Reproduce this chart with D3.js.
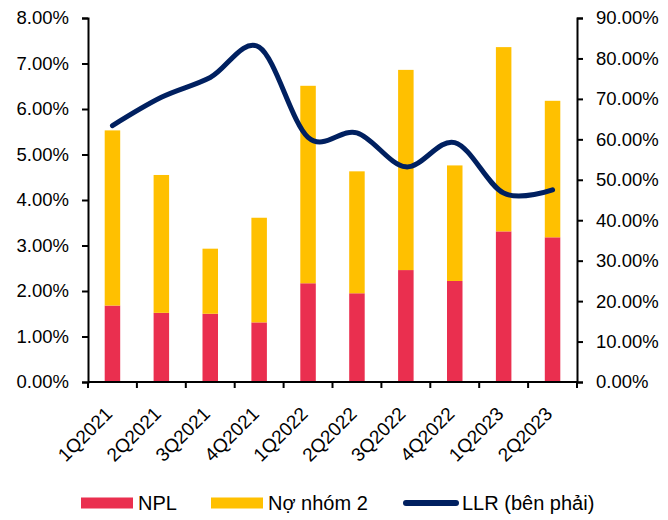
<!DOCTYPE html>
<html>
<head>
<meta charset="utf-8">
<script src="https://cdn.jsdelivr.net/npm/d3@7"></script>
<style>
  body { margin: 0; background: #fff; }
  #chart { width: 668px; height: 520px; }
  text { font-family: "Liberation Sans", Arial, sans-serif; fill: #000; }
</style>
</head>
<body>
<div id="chart"></div>
<script>
var quarters = ["1Q2021", "2Q2021", "3Q2021", "4Q2021", "1Q2022", "2Q2022", "3Q2022", "4Q2022", "1Q2023", "2Q2023"];
var npl = [1.68, 1.52, 1.50, 1.31, 2.17, 1.95, 2.46, 2.22, 3.31, 3.18];
var group2 = [3.85, 3.03, 1.43, 2.30, 4.34, 2.68, 4.40, 2.54, 4.05, 3.00];
var llr = [63.4, 70.4, 75.3, 82.8, 60.5, 61.6, 53.2, 59.2, 46.7, 47.5];
var leftTicks = [0, 1, 2, 3, 4, 5, 6, 7, 8];
var rightTicks = [0, 10, 20, 30, 40, 50, 60, 70, 80, 90];

function init() {
    var container = d3.select("#chart");
    var w = 668, h = 520;

    var svg = container.append("svg")
                .attr("width", w)
                .attr("height", h);

    var left = 88, right = 577, top = 18, bottom = 382;

    var x = d3.scaleBand().domain(quarters).range([left, right]);
    var yL = d3.scaleLinear().domain([0, 8]).range([bottom, top]);
    var yR = d3.scaleLinear().domain([0, 90]).range([bottom, top]);

    var barW = 15.5;
    var rows = quarters.map(function(q, i) {
        return { q: q, npl: npl[i], g2: group2[i], llr: llr[i] };
    });

    // stacked bars
    svg.selectAll("rect.npl")
        .data(rows)
        .enter()
        .append("rect")
        .attr("class", "npl")
        .attr("x", function(d) { return x(d.q) + x.bandwidth() / 2 - barW / 2; })
        .attr("width", barW)
        .attr("y", function(d) { return yL(d.npl); })
        .attr("height", function(d) { return yL(0) - yL(d.npl); })
        .attr("fill", "#EA2F4F");

    svg.selectAll("rect.g2")
        .data(rows)
        .enter()
        .append("rect")
        .attr("class", "g2")
        .attr("x", function(d) { return x(d.q) + x.bandwidth() / 2 - barW / 2; })
        .attr("width", barW)
        .attr("y", function(d) { return yL(d.npl + d.g2); })
        .attr("height", function(d) { return yL(d.npl) - yL(d.npl + d.g2); })
        .attr("fill", "#FFC000");

    // LLR line on right axis
    var line = d3.line()
        .x(function(d) { return x(d.q) + x.bandwidth() / 2; })
        .y(function(d) { return yR(d.llr); })
        .curve(d3.curveCardinal);

    svg.append("path")
        .datum(rows)
        .attr("d", line)
        .attr("fill", "none")
        .attr("stroke", "#002060")
        .attr("stroke-width", 5)
        .attr("stroke-linecap", "round");

    // axes
    var fmt = function(d) { return d.toFixed(2) + "%"; };

    var gL = svg.append("g")
        .attr("transform", "translate(" + left + ",0)")
        .call(d3.axisLeft(yL).tickValues(leftTicks).tickFormat(fmt).tickSize(6).tickPadding(13));

    var gR = svg.append("g")
        .attr("transform", "translate(" + right + ",0)")
        .call(d3.axisRight(yR).tickValues(rightTicks).tickFormat(fmt).tickSize(6).tickPadding(13));

    var bounds = quarters.map(function(q) { return x(q); }).concat([right]);
    var gB = svg.append("g")
        .attr("transform", "translate(0," + bottom + ")");
    gB.append("line")
        .attr("x1", left).attr("x2", right)
        .attr("stroke", "#000").attr("stroke-width", 2);
    gB.selectAll("line.tick")
        .data(bounds)
        .enter()
        .append("line")
        .attr("class", "tick")
        .attr("x1", function(d) { return d; })
        .attr("x2", function(d) { return d; })
        .attr("y1", 0).attr("y2", 6)
        .attr("stroke", "#000").attr("stroke-width", 2);
    gB.selectAll("text")
        .data(quarters)
        .enter()
        .append("text")
        .attr("text-anchor", "end")
        .attr("transform", function(d) {
            return "translate(" + (x(d) + x.bandwidth() / 2 + 1) + ",33) rotate(-45)";
        })
        .style("font-size", "19px")
        .text(function(d) { return d; });

    [gL, gR].forEach(function(g) {
        g.select(".domain").attr("stroke", "#000").attr("stroke-width", 2);
        g.selectAll(".tick line").attr("stroke", "#000").attr("stroke-width", 2);
        g.selectAll(".tick text").style("font-size", "18.5px").attr("fill", "#000");
    });

    // legend
    var lg = svg.append("g").attr("transform", "translate(0,503)");
    lg.append("rect").attr("x", 81).attr("y", -5.5).attr("width", 52).attr("height", 11).attr("fill", "#EA2F4F");
    lg.append("text").attr("x", 138).attr("dy", "0.35em").style("font-size", "20px").text("NPL");
    lg.append("rect").attr("x", 211).attr("y", -5.5).attr("width", 52).attr("height", 11).attr("fill", "#FFC000");
    lg.append("text").attr("x", 268).attr("dy", "0.35em").style("font-size", "20px").text("Nợ nhóm 2");
    lg.append("line").attr("x1", 406).attr("x2", 456).attr("y1", 0).attr("y2", 0)
        .attr("stroke", "#002060").attr("stroke-width", 6).attr("stroke-linecap", "round");
    lg.append("text").attr("x", 462).attr("dy", "0.35em").style("font-size", "20px").text("LLR (bên phải)");
}

window.onload = init;
</script>
</body>
</html>
